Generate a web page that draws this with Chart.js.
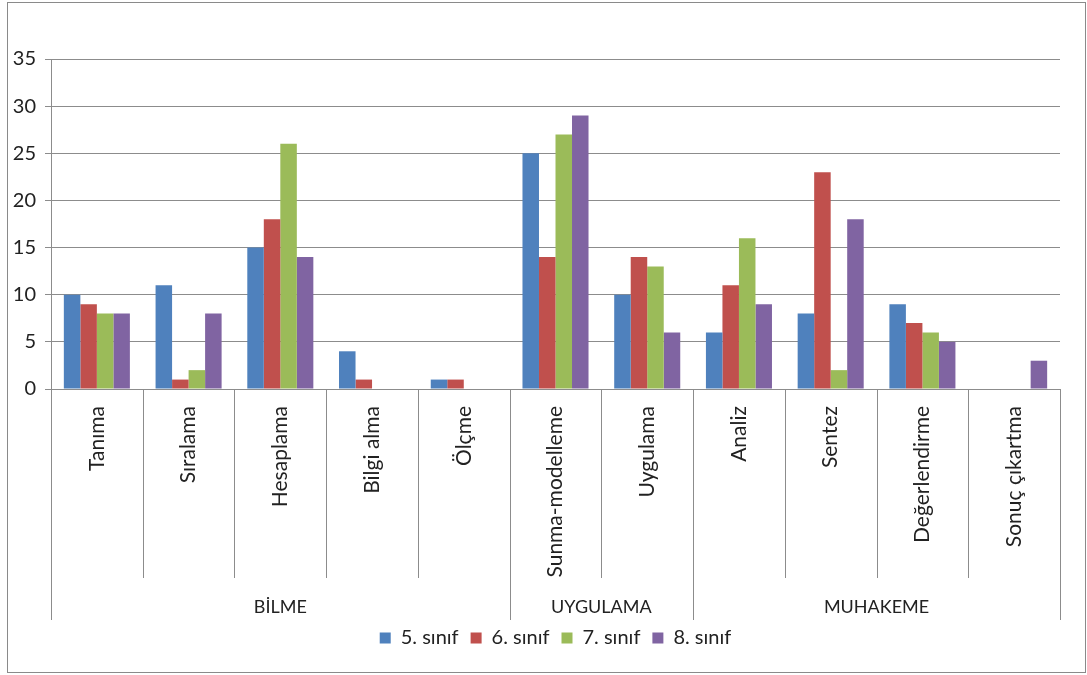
<!DOCTYPE html>
<html>
<head>
<meta charset="utf-8">
<script src="https://cdn.jsdelivr.net/npm/chart.js@4.4.1/dist/chart.umd.min.js"></script>
<style>
  body { margin: 0; background: #fff; }
  #wrap { position: relative; width: 1087px; height: 675px; }
  #frame { position: absolute; left: 7px; top: 2px; width: 1077px; height: 669px; border: 1px solid #8a8a8a; pointer-events: none; }
</style>
</head>
<body>
<div id="wrap">
  <canvas id="chart" width="1087" height="675"></canvas>
  <div id="frame"></div>
</div>
<script>
// categories and their groups
const categories = ['Tanıma', 'Sıralama', 'Hesaplama', 'Bilgi alma', 'Ölçme',
    'Sunma-modelleme', 'Uygulama',
    'Analiz', 'Sentez', 'Değerlendirme', 'Sonuç çıkartma'];
const groupNames = ['BİLME', 'UYGULAMA', 'MUHAKEME'];
const groupSizes = [5, 2, 4];

// series values
const sinif5 = [10, 11, 15, 4, 1, 25, 10, 6, 8, 9, 0];
const sinif6 = [9, 1, 18, 1, 1, 14, 14, 11, 23, 7, 0];
const sinif7 = [8, 2, 26, 0, 0, 27, 13, 16, 2, 6, 0];
const sinif8 = [8, 8, 14, 0, 0, 29, 6, 9, 18, 5, 3];

const yTicks = [0, 5, 10, 15, 20, 25, 30, 35];

const FONT = 'Lato, "Open Sans", sans-serif';
const lineColor = '#8c8c8c';

// draws category dividers and group labels under the x axis
const groupAxis = {
    id: 'groupAxis',
    afterLayout(chart) {
        // legend is centred under the plot area, not the whole canvas
        const lg = chart.legend;
        const shift = (chart.chartArea.left + chart.chartArea.right) / 2 - (lg.left + lg.right) / 2;
        lg.left += shift;
        lg.right += shift;
    },
    afterDraw(chart) {
        const ctx = chart.ctx;
        const x = chart.scales.x;
        const y0 = chart.chartArea.bottom;
        const catBottom = y0 + 189;
        const grpBottom = y0 + 231;

        const bounds = [x.left];
        for (let i = 1; i < categories.length; i++) {
            bounds.push((x.getPixelForValue(i - 1) + x.getPixelForValue(i)) / 2);
        }
        bounds.push(x.right);

        const groupEdges = [0];
        groupSizes.forEach(n => groupEdges.push(groupEdges[groupEdges.length - 1] + n));

        ctx.save();
        ctx.strokeStyle = lineColor;
        ctx.lineWidth = 1;
        bounds.forEach((bx, i) => {
            const px = Math.round(bx) + 0.5;
            ctx.beginPath();
            ctx.moveTo(px, y0);
            ctx.lineTo(px, groupEdges.includes(i) ? grpBottom : catBottom);
            ctx.stroke();
        });

        ctx.fillStyle = '#222';
        ctx.font = '18px ' + FONT;
        ctx.textAlign = 'center';
        ctx.textBaseline = 'middle';
        groupNames.forEach((name, g) => {
            const cx = (bounds[groupEdges[g]] + bounds[groupEdges[g + 1]]) / 2;
            ctx.fillText(name, cx, y0 + 218);
        });
        ctx.restore();
    }
};

const ctx = document.getElementById('chart').getContext('2d');
const chart = new Chart(ctx, {
    type: 'bar',
    data: {
        labels: categories,
        datasets: [
            { label: '5. sınıf', data: sinif5, backgroundColor: '#4F81BD' },
            { label: '6. sınıf', data: sinif6, backgroundColor: '#C0504D' },
            { label: '7. sınıf', data: sinif7, backgroundColor: '#9BBB59' },
            { label: '8. sınıf', data: sinif8, backgroundColor: '#8064A2' }
        ]
    },
    options: {
        responsive: false,
        animation: false,
        categoryPercentage: 0.72,
        barPercentage: 1.0,
        layout: { padding: { top: 59, right: 27, left: 0, bottom: 17 } },
        scales: {
            x: {
                grid: { display: false },
                border: { display: false },
                ticks: {
                    autoSkip: false,
                    minRotation: 90,
                    maxRotation: 90,
                    padding: 9,
                    color: '#222',
                    font: { family: FONT, size: 21 }
                },
                afterFit(scale) { scale.height = 227; }
            },
            y: {
                min: 0,
                max: 35,
                afterBuildTicks(scale) { scale.ticks = yTicks.map(v => ({ value: v })); },
                grid: { color: lineColor, tickLength: 6 },
                border: { color: lineColor },
                ticks: {
                    padding: 9,
                    color: '#222',
                    font: { family: FONT, size: 20 }
                },
                afterFit(scale) { scale.width = 51; }
            }
        },
        plugins: {
            legend: {
                position: 'bottom',
                labels: {
                    boxWidth: 11,
                    boxHeight: 11,
                    padding: 12,
                    color: '#222',
                    font: { family: FONT, size: 20 }
                }
            },
            tooltip: { enabled: false }
        }
    },
    plugins: [groupAxis]
});
</script>
</body>
</html>
